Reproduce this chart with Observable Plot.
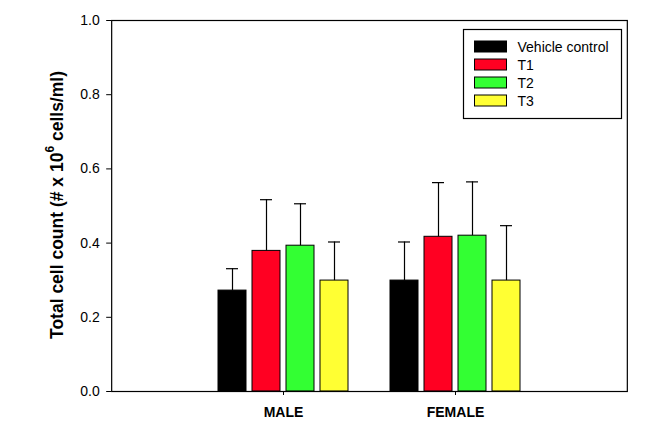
<!DOCTYPE html>
<html><head><meta charset="utf-8">
<script src="https://cdn.jsdelivr.net/npm/d3@7"></script>
<script src="https://cdn.jsdelivr.net/npm/@observablehq/plot@0.6"></script>
<style>body{margin:0;background:#fff;}</style>
</head><body><div id="chart"></div>
<script>
const sexes = ["MALE", "FEMALE"];
const groups = ["Vehicle control", "T1", "T2", "T3"];
const colors = ["#000000", "#ff0022", "#33ff33", "#ffff33"];
const maleMeans = [0.272, 0.379, 0.393, 0.299];
const maleErr = [0.059, 0.138, 0.113, 0.104];
const femaleMeans = [0.299, 0.417, 0.420, 0.299];
const femaleErr = [0.104, 0.146, 0.145, 0.148];
const yTicks = [0, 0.2, 0.4, 0.6, 0.8, 1.0];

const data = [];
sexes.forEach((s, i) => groups.forEach((g, j) => data.push({
  sex: s, group: g,
  value: (i ? femaleMeans : maleMeans)[j],
  err: (i ? femaleErr : maleErr)[j]
})));

const W = 672, ML = 111, MR = 45;
const fxPadInner = 0.162, fxPadOuter = 0.58;
// outer gap (px) that Plot leaves outside the facet bands
const fxStep = (W - ML - MR) / (sexes.length - fxPadInner + 2 * fxPadOuter);
const outerGap = fxStep * fxPadOuter;

const plot = Plot.plot({
  width: W, height: 434,
  marginTop: 20, marginBottom: 43, marginLeft: ML, marginRight: MR,
  style: {fontFamily: "'Liberation Sans', Arial, sans-serif", fontSize: "14px", color: "#000", background: "#fff"},
  fx: {domain: sexes, paddingInner: fxPadInner, paddingOuter: fxPadOuter, label: null},
  x: {domain: groups, padding: 0.186, axis: null},
  y: {domain: [0, 1], label: null},
  color: {domain: groups, range: colors},
  marks: [
    Plot.barY(data, {fx: "sex", x: "group", y: "value", fill: "group", stroke: "#000", strokeWidth: 1}),
    Plot.ruleX(data, {fx: "sex", x: "group", y1: "value", y2: d => d.value + d.err, stroke: "#000", strokeWidth: 1.2}),
    Plot.tickY(data, {fx: "sex", x: "group", y: d => d.value + d.err, stroke: "#000", strokeWidth: 1.2, insetLeft: 8, insetRight: 8}),
    Plot.axisY({ticks: yTicks, tickFormat: ".1f", tickSize: 5, tickPadding: 7, label: null, fontSize: 14, dx: -outerGap}),
    Plot.axisFx({anchor: "bottom", tickSize: 4, tickPadding: 12, label: null, fontWeight: "bold", fontSize: 14}),
    Plot.frame({stroke: "#000", strokeWidth: 1.2, facet: "super", insetLeft: -outerGap, insetRight: -outerGap})
  ]
});

const svg = d3.select(plot);
const lab = svg.append("text")
  .attr("transform", "translate(57,205) rotate(-90)")
  .attr("text-anchor", "middle")
  .attr("dominant-baseline", "central")
  .attr("font-weight", "bold")
  .attr("font-size", 17.5)
  .attr("fill", "#000");
lab.append("tspan").text("Total cell count (# x 10");
lab.append("tspan").attr("font-size", 12).attr("dy", -7).text("6");
lab.append("tspan").attr("dy", 7).text(" cells/ml)");

const leg = svg.append("g").attr("transform", "translate(463.5,29.5)");
leg.append("rect").attr("width", 158).attr("height", 89).attr("fill", "#fff").attr("stroke", "#000").attr("stroke-width", 1.2);
groups.forEach((g, i) => {
  leg.append("rect").attr("x", 11).attr("y", 11.5 + i * 18).attr("width", 32).attr("height", 11)
    .attr("fill", colors[i]).attr("stroke", "#000").attr("stroke-width", 1);
  leg.append("text").attr("x", 54).attr("y", 17 + i * 18).attr("dominant-baseline", "central")
    .attr("text-anchor", "start").attr("font-size", 14).attr("fill", "#000").text(g);
});

document.getElementById("chart").appendChild(plot);
</script>
</body></html>
